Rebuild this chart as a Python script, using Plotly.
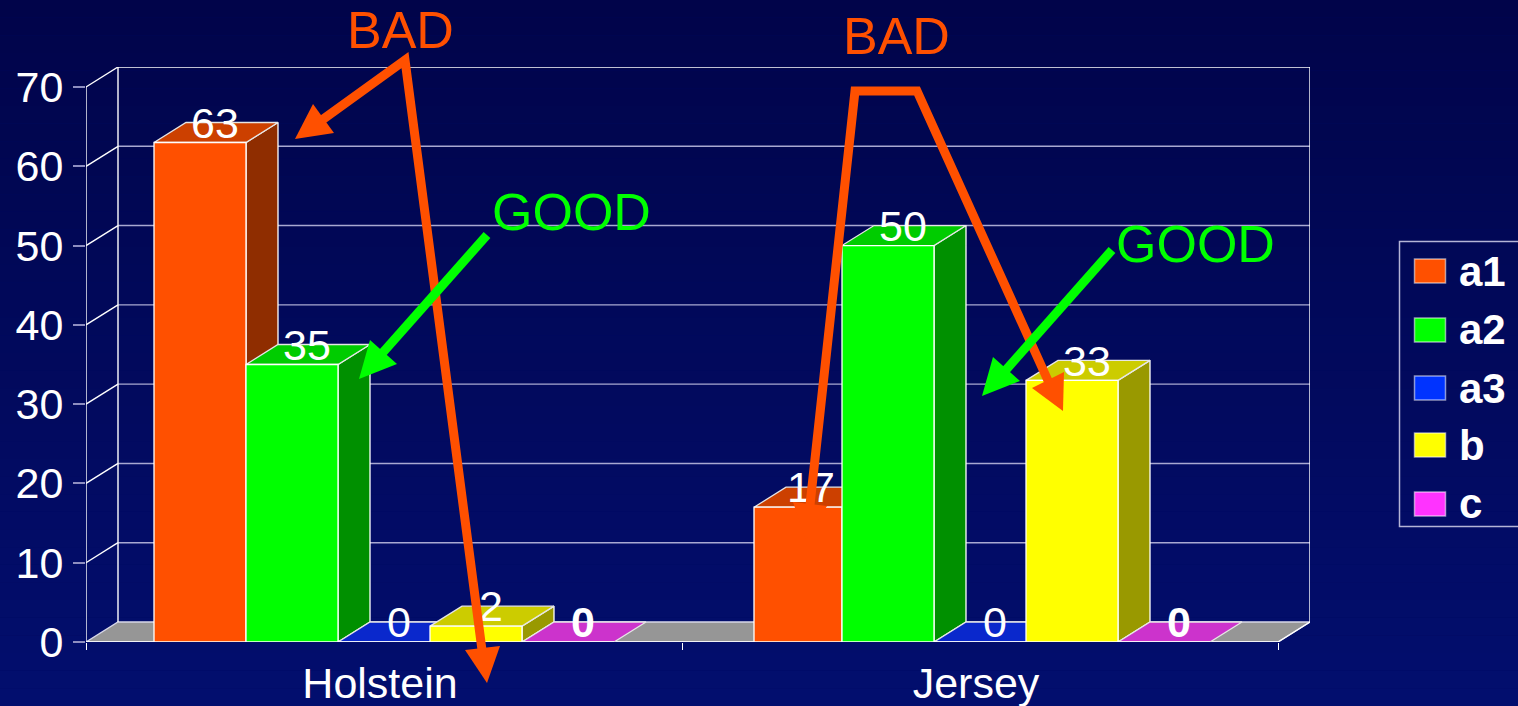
import plotly.graph_objects as go

categories = ["Holstein", "Jersey"]
series_names = ["a1", "a2", "a3", "b", "c"]
a1 = [63, 17]
a2 = [35, 50]
a3 = [0, 0]
b = [2, 33]
c = [0, 0]
series_values = [a1, a2, a3, b, c]
y_ticks = [0, 10, 20, 30, 40, 50, 60, 70]

front_colors = ["#FF5000", "#00FF00", "#0033FF", "#FFFF00", "#FF33FF"]
top_colors = ["#CC4000", "#00CC00", "#0A28CC", "#CCCC00", "#CC33CC"]
side_colors = ["#8F2D00", "#009000", "#001C90", "#999900", "#8F1C8F"]

W, H = 1518, 706
LEFT, RIGHT, TOP, BOTTOM = 86, 1310, 67, 642
PX_PER_CAT = 596
PX_PER_UNIT = 555 / 70
DX = 32 / PX_PER_CAT
DY = 20 / PX_PER_UNIT
BARGAP = 136 / 596
BW = (1 - BARGAP) / 5
X_MIN = -0.5
X_MAX = X_MIN + (RIGHT - LEFT) / PX_PER_CAT
Y_MAX = (BOTTOM - TOP) / PX_PER_UNIT
X_DOMAIN = [LEFT / W, RIGHT / W]
Y_DOMAIN = [1 - BOTTOM / H, 1 - TOP / H]
X_FRONT_END = 1.5
TRIM = 4 / PX_PER_CAT  # first Jersey bar is slightly narrower in the original

fig = go.Figure()


def poly(xs, ys, fill, line="#FFFFFF", width=1.3):
    fig.add_trace(go.Scatter(x=xs, y=ys, mode="lines", fill="toself", fillcolor=fill,
                             line=dict(color=line, width=width), hoverinfo="skip",
                             showlegend=False, cliponaxis=False))


def stroke(xs, ys, color="#FFFFFF", width=1.4):
    fig.add_trace(go.Scatter(x=xs, y=ys, mode="lines", line=dict(color=color, width=width),
                             hoverinfo="skip", showlegend=False, cliponaxis=False))


# floor and walls
poly([X_MIN, X_MIN + DX, X_MAX, X_FRONT_END, X_MIN], [0, DY, DY, 0, 0], "#969696", "#D8D8E8")
for t in y_ticks[1:-1]:
    stroke([X_MIN, X_MIN + DX], [t, t + DY])
    stroke([X_MIN + DX, X_MAX], [t + DY, t + DY], "#A9A9D2")
stroke([X_MIN, X_MIN + DX], [70, 70 + DY])
stroke([X_MIN + DX, X_MAX], [70 + DY, 70 + DY])
stroke([X_MIN, X_MIN], [0, 70])
stroke([X_MIN + DX, X_MIN + DX], [DY, 70 + DY])
stroke([X_MAX, X_MAX], [DY, 70 + DY])
stroke([X_MIN, X_FRONT_END], [0, 0])
stroke([X_FRONT_END, X_MAX], [0, DY])


def trim(i, k):
    return TRIM if (i == 0 and k == 1) else 0


# 3D faces of the bars, drawn from the values
for i, vals in enumerate(series_values):
    tx, ty, sx, sy = [], [], [], []
    for k, v in enumerate(vals):
        x1 = k + (i - 2.5) * BW + BW
        x0 = x1 - BW + trim(i, k)
        tx += [x0, x0 + DX, x1 + DX, x1, x0, None]
        ty += [v, v + DY, v + DY, v, v, None]
        if v > 0:
            sx += [x1, x1 + DX, x1 + DX, x1, x1, None]
            sy += [0, DY, v + DY, v, 0, None]
    if sx:
        poly(sx, sy, side_colors[i])
    poly(tx, ty, top_colors[i], "#E6E6E6")

# front faces: native bars on an overlaying axis pair
for i, vals in enumerate(series_values):
    fig.add_trace(go.Bar(x=[0, 1], y=vals, name=series_names[i], xaxis="x2", yaxis="y2",
                         offset=[(i - 2.5) * BW + trim(i, k) for k in range(len(vals))],
                         width=[BW - trim(i, k) for k in range(len(vals))],
                         marker=dict(color=front_colors[i], line=dict(color="#FFFFFF", width=1.3)),
                         showlegend=False))

# data labels
for i, vals in enumerate(series_values):
    fig.add_trace(go.Scatter(
        x=[k + (i - 2) * BW + DX / 2 - 1 / PX_PER_CAT for k in range(len(vals))],
        y=[v + 15.5 / PX_PER_UNIT for v in vals],
        text=[str(v) for v in vals], mode="text", xaxis="x2", yaxis="y2",
        textposition="middle center", showlegend=False, hoverinfo="skip", cliponaxis=False,
        textfont=dict(family="Liberation Sans", size=43, color="#FFFFFF",
                      weight="bold" if series_names[i] == "c" else "normal")))


def px(x):
    return x / W


def py(y):
    return 1 - y / H


shapes = []
# background gradient
TOP_RGB = (1, 4, 74)
BOT_RGB = (2, 14, 110)
N = 40
for j in range(N):
    f = j / (N - 1)
    col = tuple(round(TOP_RGB[q] + (BOT_RGB[q] - TOP_RGB[q]) * f) for q in range(3))
    shapes.append(dict(type="rect", xref="paper", yref="paper", layer="below",
                       x0=0, x1=1, y0=1 - j / N, y1=1 - (j + 1) / N,
                       fillcolor="rgb(%d,%d,%d)" % col, line=dict(width=0)))


def pline(points, color, width=9):
    path = "M" + " L".join("%.5f,%.5f" % (px(a), py(b_)) for a, b_ in points)
    shapes.append(dict(type="path", xref="paper", yref="paper", path=path, layer="above",
                       line=dict(color=color, width=width)))


def phead(points, color):
    path = "M" + " L".join("%.5f,%.5f" % (px(a), py(b_)) for a, b_ in points) + " Z"
    shapes.append(dict(type="path", xref="paper", yref="paper", path=path, layer="above",
                       fillcolor=color, line=dict(color=color, width=0)))


ORANGE = "#FF5000"
GREEN = "#00FF00"
pline([(322, 120), (405, 60), (482, 650)], ORANGE)
phead([(295, 139), (313, 104), (334, 133)], ORANGE)
phead([(487, 683), (465, 650), (500, 646)], ORANGE)
pline([(810, 505), (855, 91), (917, 91), (1050, 385)], ORANGE)
phead([(1063, 411), (1032, 388), (1064, 372)], ORANGE)
phead([(806, 540), (793, 502), (827, 506)], ORANGE)
pline([(487, 235), (378, 358)], GREEN)
phead([(359, 379), (370, 340), (397, 364)], GREEN)
pline([(1112, 250), (1005, 371)], GREEN)
phead([(982, 396), (993, 357), (1020, 381)], GREEN)

annotations = []


def note(x, y, text, color, size, bold=False, anchor="center"):
    annotations.append(dict(xref="paper", yref="paper", x=px(x), y=py(y), text=text,
                            showarrow=False, xanchor=anchor, yanchor="middle",
                            font=dict(family="Liberation Sans", size=size, color=color,
                                      weight="bold" if bold else "normal")))


note(400, 30, "BAD", ORANGE, 52)
note(896, 36, "BAD", ORANGE, 52)
note(571, 212, "GOOD", GREEN, 52)
note(1195, 244, "GOOD", GREEN, 52)

# legend
shapes.append(dict(type="rect", xref="paper", yref="paper", x0=px(1399.5), x1=px(1530),
                   y0=py(241.5), y1=py(526.5), line=dict(color="#B4B4D6", width=1.5)))
swatch_y = [271, 330, 388, 445, 504]
for i, name in enumerate(series_names):
    yc = swatch_y[i]
    shapes.append(dict(type="rect", xref="paper", yref="paper", x0=px(1414.5), x1=px(1445.5),
                       y0=py(yc - 12), y1=py(yc + 12), fillcolor=front_colors[i],
                       line=dict(color="rgba(255,255,255,0.55)", width=1.5)))
    note(1457, yc, name, "#FFFFFF", 42, bold=True, anchor="left")

fig.update_layout(
    width=W, height=H, autosize=False,
    margin=dict(l=0, r=0, t=0, b=0),
    paper_bgcolor="#020A60", plot_bgcolor="rgba(0,0,0,0)",
    barmode="overlay",
    showlegend=False, shapes=shapes, annotations=annotations,
    font=dict(family="Liberation Sans", color="#FFFFFF"),
    xaxis=dict(domain=X_DOMAIN, range=[X_MIN, X_MAX], tickmode="array", tickvals=[0, 1],
               ticktext=categories, showgrid=False, zeroline=False, showline=False, ticks="",
               automargin=False,
               tickfont=dict(size=43, color="#FFFFFF"), ticklabelstandoff=12, ticklabelshift=-4,
               minor=dict(tickmode="array", tickvals=[-0.5, 0.5, 1.5], ticks="outside",
                          ticklen=7, tickcolor="#FFFFFF", tickwidth=1, showgrid=False)),
    yaxis=dict(domain=Y_DOMAIN, range=[0, Y_MAX], tickmode="array", tickvals=y_ticks,
               showgrid=False, zeroline=False, showline=False, ticks="outside", ticklen=12,
               automargin=False,
               tickcolor="#8E8EC0", tickwidth=1.5, tickfont=dict(size=43, color="#FFFFFF"),
               ticklabelstandoff=1),
    xaxis2=dict(domain=X_DOMAIN, range=[X_MIN, X_MAX], overlaying="x", visible=False, automargin=False),
    yaxis2=dict(domain=Y_DOMAIN, range=[0, Y_MAX], overlaying="y", visible=False, automargin=False),
)

fig.write_html("out.html", config=dict(displayModeBar=False),
               post_script="document.body.style.margin='0';document.body.style.overflow='hidden';")
